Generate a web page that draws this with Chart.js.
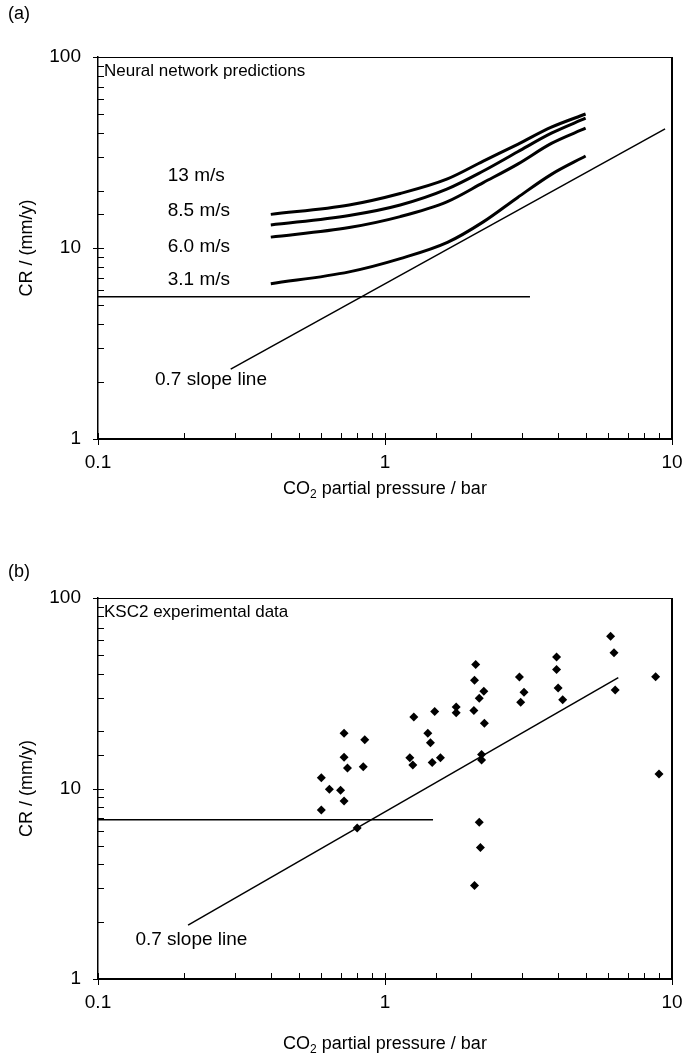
<!DOCTYPE html>
<html>
<head>
<meta charset="utf-8">
<script src="https://cdn.jsdelivr.net/npm/chart.js@4.4.1/dist/chart.umd.min.js"></script>
<style>
  body{margin:0;background:#fff;}
  canvas{display:block;}
</style>
</head>
<body>
<canvas id="chartA" width="685" height="530"></canvas>
<canvas id="chartB" width="685" height="530"></canvas>
<script>
// (a) neural network curves
const pressureA = [0.4, 0.75, 1.13, 1.65, 2.2, 2.9, 3.8, 5.0];
const cr13 = [15.0, 16.8, 19.3, 23.0, 28.5, 34.9, 42.9, 50.3];
const cr85 = [13.2, 14.8, 16.8, 20.4, 25.3, 31.9, 39.9, 47.8];
const cr60 = [11.4, 12.8, 14.6, 17.5, 22.0, 27.5, 35.3, 42.4];
const cr31 = [6.5, 7.5, 8.8, 10.7, 13.7, 18.4, 24.3, 30.3];
const speedLabels = ["13 m/s", "8.5 m/s", "6.0 m/s", "3.1 m/s"];
const speedLabelY = [23.8, 15.6, 10.2, 6.8];

const flatA = {x:[0.1, 3.2], y:[5.56, 5.56]};
const slopeA = {x:[0.29, 9.46], y:[2.32, 42.0]};

// (b) KSC2 experimental data
const expX = [0.60,0.60,0.64,0.70,0.72,0.72,0.72,0.74,0.85,0.84,0.80,1.26,1.49,1.41,1.44,1.22,1.25,1.46,1.56,1.77,1.77,2.07,2.05,2.21,2.13,2.04,2.22,2.17,2.17,2.13,2.15,2.05,2.94,3.05,2.97,3.96,3.96,4.01,4.16,6.11,6.28,6.34,8.77,9.01];
const expY = [7.7,11.4,9.9,9.8,8.6,19.5,14.6,12.8,18.0,13.0,6.2,23.7,25.4,19.5,17.4,14.5,13.3,13.7,14.5,26.8,25.0,44.7,37.0,32.4,29.8,25.7,22.0,15.1,14.1,6.65,4.9,3.1,38.5,32.0,28.4,49.0,42.2,33.7,29.2,63.0,51.6,32.9,38.6,11.9];

const flatB = {x:[0.1, 1.47], y:[6.86, 6.86]};
const slopeB = {x:[0.206, 6.5], y:[1.92, 38.2]};

const xTicks = [0.1, 1, 10];
const yTicks = [1, 10, 100];

const FONT = '"Liberation Sans", Arial, Helvetica, sans-serif';
Chart.defaults.font.family = FONT;
Chart.defaults.color = "#000";

function pts(xs, ys){
  return xs.map((v,i)=>({x:v, y:ys[i]}));
}

function isDecade(v){
  const l = Math.log10(v);
  return Math.abs(l - Math.round(l)) < 1e-6;
}

const decor = {
  id: "decor",
  afterDraw(chart, args, o){
    const {ctx, chartArea:a, scales:{x, y}} = chart;
    ctx.save();
    ctx.strokeStyle = "#000";

    ctx.lineWidth = 1;
    ctx.beginPath();
    ctx.moveTo(a.left, a.top + 0.5);
    ctx.lineTo(a.right, a.top + 0.5);
    ctx.stroke();
    ctx.lineWidth = 2;
    ctx.beginPath();
    ctx.moveTo(a.right, a.top);
    ctx.lineTo(a.right, a.bottom);
    ctx.stroke();

    ctx.lineWidth = 1;
    x.ticks.forEach(t=>{
      const px = Math.round(x.getPixelForValue(t.value)) + 0.5;
      const major = isDecade(t.value);
      ctx.beginPath();
      ctx.moveTo(px, a.bottom + (major ? 6 : 0));
      ctx.lineTo(px, a.bottom - 6);
      ctx.stroke();
    });
    y.ticks.forEach(t=>{
      const py = Math.round(y.getPixelForValue(t.value)) + 0.5;
      const major = isDecade(t.value);
      ctx.beginPath();
      ctx.moveTo(a.left - (major ? 5 : 0), py);
      ctx.lineTo(a.left + 6, py);
      ctx.stroke();
    });

    ctx.fillStyle = "#000";
    ctx.textBaseline = "middle";
    ctx.textAlign = "left";

    ctx.font = "18px " + FONT;
    ctx.fillText(o.panel, 8, o.panelY);

    ctx.font = "17px " + FONT;
    ctx.fillText(o.caption, a.left + 6, a.top + 14);

    ctx.font = "19px " + FONT;
    o.notes.forEach(n=>{
      ctx.fillText(n.text, x.getPixelForValue(n.x), y.getPixelForValue(n.y));
    });

    // x axis title with subscript
    ctx.font = "18px " + FONT;
    const s1 = "CO", s3 = " partial pressure / bar";
    const w1 = ctx.measureText(s1).width;
    const w3 = ctx.measureText(s3).width;
    ctx.font = "12px " + FONT;
    const w2 = ctx.measureText("2").width;
    let tx = (a.left + a.right) / 2 - (w1 + w2 + w3) / 2;
    const ty = a.bottom + o.titleGap;
    ctx.font = "18px " + FONT;
    ctx.fillText(s1, tx, ty);
    ctx.font = "12px " + FONT;
    ctx.fillText("2", tx + w1, ty + 6);
    ctx.font = "18px " + FONT;
    ctx.fillText(s3, tx + w1 + w2, ty);

    // y axis title
    ctx.translate(27, (a.top + a.bottom) / 2);
    ctx.rotate(-Math.PI / 2);
    ctx.textAlign = "center";
    ctx.fillText("CR / (mm/y)", 0, 0);
    ctx.restore();
  }
};

function lineSet(obj, width){
  return {
    data: pts(obj.x, obj.y),
    showLine: true,
    borderColor: "#000",
    borderWidth: width,
    pointRadius: 0,
    tension: 0
  };
}

function curveSet(ys){
  return {
    data: pts(pressureA, ys),
    showLine: true,
    borderColor: "#000",
    borderWidth: 3,
    pointRadius: 0,
    cubicInterpolationMode: "monotone"
  };
}

function makePanel(id, datasets, cfg){
  return new Chart(document.getElementById(id), {
    type: "scatter",
    data: { datasets },
    options: {
      responsive: false,
      animation: false,
      layout: { padding: { top: cfg.top, right: 13, left: 0, bottom: 0 } },
      plugins: {
        legend: { display: false },
        tooltip: { enabled: false },
        decor: cfg.decor
      },
      scales: {
        x: {
          type: "logarithmic",
          min: 0.1, max: 10,
          grid: { display: false, drawTicks: false },
          border: { display: true, color: "#000", width: 2 },
          afterFit: s => { s.height = cfg.xHeight; s.paddingLeft = 0; s.paddingRight = 0; },
          ticks: {
            autoSkip: false, maxRotation: 0, padding: cfg.xPad,
            font: { size: 19 },
            callback: v => xTicks.includes(v) ? String(v) : ""
          }
        },
        y: {
          type: "logarithmic",
          min: 1, max: 100,
          grid: { display: false, drawTicks: false },
          border: { display: true, color: "#000", width: 1.5 },
          afterFit: s => { s.width = 98; s.paddingTop = 0; s.paddingBottom = 0; },
          ticks: {
            autoSkip: false, padding: 17,
            font: { size: 19 },
            callback: v => yTicks.includes(v) ? String(v) : ""
          }
        }
      }
    },
    plugins: [decor]
  });
}

const notesA = speedLabels.map((t,i)=>({text:t, x:0.175, y:speedLabelY[i]}));
notesA.push({text:"0.7 slope line", x:0.158, y:2.04});

makePanel("chartA", [
  curveSet(cr13), curveSet(cr85), curveSet(cr60), curveSet(cr31),
  lineSet(flatA, 1.5), lineSet(slopeA, 1.5)
], {
  top: 57, xHeight: 91, xPad: 12,
  decor: { panel: "(a)", panelY: 14, caption: "Neural network predictions", titleGap: 50, notes: notesA }
});

makePanel("chartB", [
  {
    data: pts(expX, expY),
    pointStyle: "rectRot",
    pointRadius: 4.5,
    backgroundColor: "#000",
    borderColor: "#000",
    borderWidth: 0
  },
  lineSet(flatB, 1.5), lineSet(slopeB, 1.5)
], {
  top: 68, xHeight: 81, xPad: 12,
  decor: { panel: "(b)", panelY: 42, caption: "KSC2 experimental data", titleGap: 65,
    notes: [{text:"0.7 slope line", x:0.135, y:1.60}] }
});
</script>
</body>
</html>
